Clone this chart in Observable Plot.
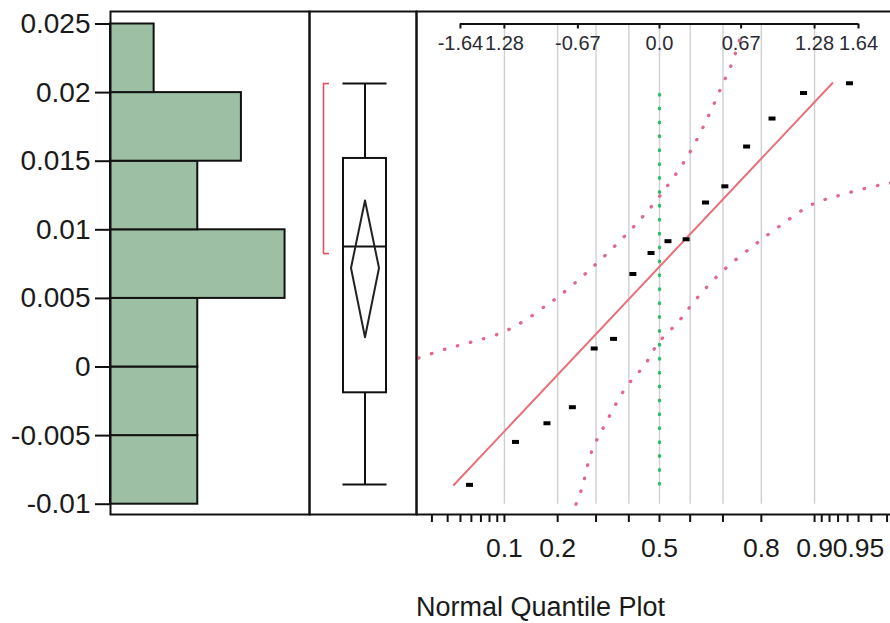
<!DOCTYPE html>
<html><head><meta charset="utf-8">
<script src="https://cdn.jsdelivr.net/npm/d3@7"></script>
<script src="https://cdn.jsdelivr.net/npm/@observablehq/plot@0.6"></script>
<style>
html,body{margin:0;padding:0;overflow:hidden;background:#fff;}
#wrap{position:relative;width:890px;height:623px;overflow:hidden;background:#fff;}
#wrap svg{position:absolute;left:0;top:0;max-width:none !important;}
#caption{position:absolute;left:416px;top:594px;font-size:27px;line-height:27px;font-family:"Liberation Sans",Arial,sans-serif;color:#1a1a1a;white-space:nowrap;}
</style></head><body><div id="wrap"><div id="caption">Normal Quantile Plot</div></div>
<script>
// ---------- data ----------
const values = [-0.00859, -0.00546, -0.0041, -0.00293, 0.00135, 0.00205, 0.00678, 0.00831,
                0.00917, 0.00931, 0.01199, 0.01317, 0.01607, 0.01811, 0.01997, 0.02068];
const normalScores = [-1.57, -1.19, -0.93, -0.72, -0.54, -0.38, -0.22, -0.07,
                      0.07, 0.22, 0.38, 0.54, 0.72, 0.93, 1.19, 1.57];
const binLo = [-0.01, -0.005, 0, 0.005, 0.01, 0.015, 0.02];
const binHi = [-0.005, 0, 0.005, 0.01, 0.015, 0.02, 0.025];
const binCounts = [2, 2, 2, 4, 2, 3, 1];
const yTicks = [-0.01, -0.005, 0, 0.005, 0.01, 0.015, 0.02, 0.025];
const yTickLabels = ["-0.01", "-0.005", "0", "0.005", "0.01", "0.015", "0.02", "0.025"];
const boxStats = {min: -0.00856, q1: -0.00188, median: 0.00878, q3: 0.0152, max: 0.02066,
                  mean: 0.00722, meanLo: 0.00217, meanHi: 0.01214, shortLo: 0.00827, shortHi: 0.02066};
const fitZ = [-1.70, 1.43];
const fitV = [-0.0086, 0.0207];
const upperBandZ = [-1.99, -1.77, -1.55, -1.31, -1.11, -0.92, -0.83, -0.56, -0.25, -0.01, 0.24, 0.41, 0.52, 0.60, 0.65, 0.68];
const upperBandV = [0.00066, 0.0013, 0.00183, 0.00248, 0.00341, 0.0046, 0.00516, 0.00722, 0.00989, 0.01232, 0.01548, 0.0184, 0.02058, 0.02216, 0.02352, 0.02440];
const lowerBandZ = [-0.69, -0.64, -0.56, -0.45, -0.28, -0.12, -0.01, 0.16, 0.30, 0.52, 0.79, 1.01, 1.26, 1.51, 1.84, 1.99];
const lowerBandV = [-0.01, -0.00881, -0.00614, -0.00419, -0.00152, 0.00018, 0.00175, 0.00334, 0.00492, 0.00698, 0.00893, 0.01038, 0.01184, 0.01257, 0.0133, 0.01350];
const medianLineV = [-0.00857, 0.0199];
const topTickZ = [-1.645, -1.2816, -0.6745, 0, 0.6745, 1.2816, 1.645];
const topTickLabels = ["-1.64", "1.28", "-0.67", "0.0", "0.67", "1.28", "1.64"];
const gridProbs = [0.1, 0.2, 0.3, 0.4, 0.5, 0.6, 0.7, 0.8, 0.9];
const minorProbs = [0.03, 0.04, 0.05, 0.06, 0.07, 0.08, 0.09, 0.91, 0.92, 0.93, 0.94, 0.95, 0.96, 0.97];
const probLabels = [0.1, 0.2, 0.5, 0.8, 0.9, 0.95];
const probLabelText = ["0.1", "0.2", "0.5", "0.8", "0.9", "0.95"];

// ---------- helpers ----------
function probit(p){
  const a=[-3.969683028665376e+01,2.209460984245205e+02,-2.759285104469687e+02,1.383577518672690e+02,-3.066479806614716e+01,2.506628277459239e+00];
  const b=[-5.447609879822406e+01,1.615858368580409e+02,-1.556989798598866e+02,6.680131188771972e+01,-1.328068155288572e+01];
  const c=[-7.784894002430293e-03,-3.223964580411365e-01,-2.400758277161838e+00,-2.549671010139143e+00,4.374664141464968e+00,2.938163982698783e+00];
  const d=[7.784695709041462e-03,3.224671290700398e-01,2.445134137142996e+00,3.754408661907416e+00];
  const pl=0.02425, ph=1-pl; let q,r;
  if(p<pl){q=Math.sqrt(-2*Math.log(p));return (((((c[0]*q+c[1])*q+c[2])*q+c[3])*q+c[4])*q+c[5])/((((d[0]*q+d[1])*q+d[2])*q+d[3])*q+1);}
  if(p<=ph){q=p-0.5;r=q*q;return (((((a[0]*r+a[1])*r+a[2])*r+a[3])*r+a[4])*r+a[5])*q/(((((b[0]*r+b[1])*r+b[2])*r+b[3])*r+b[4])*r+1);}
  q=Math.sqrt(-2*Math.log(1-p));return -(((((c[0]*q+c[1])*q+c[2])*q+c[3])*q+c[4])*q+c[5])/((((d[0]*q+d[1])*q+d[2])*q+d[3])*q+1);
}

const FONT = '"Liberation Sans", Arial, sans-serif';
const H = 623, TOP = 11, BOTTOM = 514;
const yScale = {domain: [-0.01075, 0.025911], range: [BOTTOM, TOP], axis: null};
const frameStyle = {stroke: "#111", strokeWidth: 2};
const baseStyle = {fontFamily: FONT, background: "transparent", color: "#1a1a1a", maxWidth: "none"};
const wrap = document.getElementById("wrap");

function place(svg){ wrap.appendChild(svg); }

// ---------- histogram ----------
const bins = binCounts.map((c, i) => ({lo: binLo[i], hi: binHi[i], count: c}));
place(Plot.plot({
  width: 890, height: H,
  marginLeft: 110, marginRight: 890 - 309, marginTop: TOP, marginBottom: H - BOTTOM,
  style: baseStyle,
  x: {domain: [0, 4.56], axis: null},
  y: yScale,
  marks: [
    Plot.rectX(bins, {y1: "lo", y2: "hi", x1: 0, x2: "count", fill: "#9dbfa3", stroke: "#111", strokeWidth: 2}),
    Plot.axisY({ticks: yTicks, tickSize: 15, tickPadding: 5, strokeWidth: 2, stroke: "#111", label: null,
      tickFormat: v => yTickLabels[yTicks.indexOf(v)], fontSize: 28, fill: "#1a1a1a"}),
    Plot.frame(frameStyle)
  ]
}));

// ---------- box plot ----------
const BOX_HW = 21.5, CAP_HW = 22, DIA_HW = 14, BR_X = -41.5, BR_CAP = 6;
const diamond = [
  {x: 0, y: boxStats.meanHi}, {x: DIA_HW, y: boxStats.mean},
  {x: 0, y: boxStats.meanLo}, {x: -DIA_HW, y: boxStats.mean}, {x: 0, y: boxStats.meanHi}
];
place(Plot.plot({
  width: 890, height: H,
  marginLeft: 309, marginRight: 890 - 416, marginTop: TOP, marginBottom: H - BOTTOM,
  style: baseStyle,
  x: {domain: [-55.5, 51.5], axis: null},
  y: yScale,
  marks: [
    Plot.ruleX([0], {y1: boxStats.min, y2: boxStats.q1, stroke: "#111", strokeWidth: 2}),
    Plot.ruleX([0], {y1: boxStats.q3, y2: boxStats.max, stroke: "#111", strokeWidth: 2}),
    Plot.ruleY([boxStats.min, boxStats.max], {x1: -CAP_HW, x2: CAP_HW, stroke: "#111", strokeWidth: 2}),
    Plot.rect([boxStats], {x1: -BOX_HW, x2: BOX_HW, y1: "q1", y2: "q3", fill: "white", stroke: "#111", strokeWidth: 2}),
    Plot.ruleY([boxStats.median], {x1: -BOX_HW, x2: BOX_HW, stroke: "#111", strokeWidth: 2}),
    Plot.line(diamond, {x: "x", y: "y", stroke: "#222", strokeWidth: 2}),
    Plot.ruleX([BR_X], {y1: boxStats.shortLo, y2: boxStats.shortHi, stroke: "#e0505e", strokeWidth: 1.6}),
    Plot.ruleY([boxStats.shortLo, boxStats.shortHi], {x1: BR_X, x2: BR_X + BR_CAP, stroke: "#e0505e", strokeWidth: 1.6}),
    Plot.frame(frameStyle)
  ]
}));

// ---------- normal quantile plot ----------
const points = values.map((v, i) => ({z: normalScores[i], v}));
const fit = fitZ.map((z, i) => ({z, v: fitV[i]}));
const upper = upperBandZ.map((z, i) => ({z, v: upperBandV[i]}));
const lower = lowerBandZ.map((z, i) => ({z, v: lowerBandV[i]}));
const gridZ = gridProbs.map(probit);
const allTickProbs = [...minorProbs, ...gridProbs];
const tickZ = allTickProbs.map(probit);
const labelMap = new Map(probLabels.map((p, i) => [probit(p), probLabelText[i]]));
const TOPV = yTicks[yTicks.length - 1], BOTV = yTicks[0];
const topTicks = topTickZ.map((z, i) => ({z, label: topTickLabels[i], v: TOPV}));
const dash = {draw(ctx){ ctx.moveTo(-3.5,-2); ctx.lineTo(3.5,-2); ctx.lineTo(3.5,2); ctx.lineTo(-3.5,2); ctx.closePath(); }};

place(Plot.plot({
  width: 900, height: H,
  marginLeft: 416, marginRight: 0, marginTop: TOP, marginBottom: H - BOTTOM,
  style: baseStyle,
  x: {domain: [(416 - 659) / 121, (900 - 659) / 121], axis: null},
  y: yScale,
  marks: [
    Plot.ruleX(gridZ, {y1: TOPV, y2: BOTV, stroke: "#cfcfcf", strokeWidth: 1.4}),
    Plot.ruleY([TOPV], {x1: topTickZ[0], x2: topTickZ[topTickZ.length - 1], stroke: "#111", strokeWidth: 2}),
    Plot.ruleX(topTicks, {x: "z", y1: "v", y2: "v", insetBottom: -5, stroke: "#111", strokeWidth: 2}),
    Plot.text(topTicks, {x: "z", y: "v", text: "label", dy: 20, fontSize: 20, fill: "#2a2a33"}),
    Plot.axisX({ticks: tickZ, tickSize: 8, tickPadding: 16, strokeWidth: 2, stroke: "#111", label: null,
      tickFormat: z => labelMap.get(z) ?? "", fontSize: 26.5, fill: "#1a1a1a"}),
    Plot.ruleX([0], {y1: medianLineV[0], y2: medianLineV[1], stroke: "#3cb86a", strokeWidth: 3.5,
      strokeDasharray: "0.5,13.4", strokeLinecap: "round"}),
    Plot.line(upper, {x: "z", y: "v", curve: "catmull-rom", stroke: "#e2688a", strokeWidth: 3.3,
      strokeDasharray: "0.5,13", strokeLinecap: "round", clip: true}),
    Plot.line(lower, {x: "z", y: "v", curve: "catmull-rom", stroke: "#e2688a", strokeWidth: 3.3,
      strokeDasharray: "0.5,13", strokeLinecap: "round", clip: true}),
    Plot.line(fit, {x: "z", y: "v", stroke: "#e8707a", strokeWidth: 2}),
    Plot.dot(points, {x: "z", y: "v", symbol: dash, fill: "#000", stroke: null, r: 3}),
    Plot.frame(frameStyle)
  ]
}));
</script></body></html>
